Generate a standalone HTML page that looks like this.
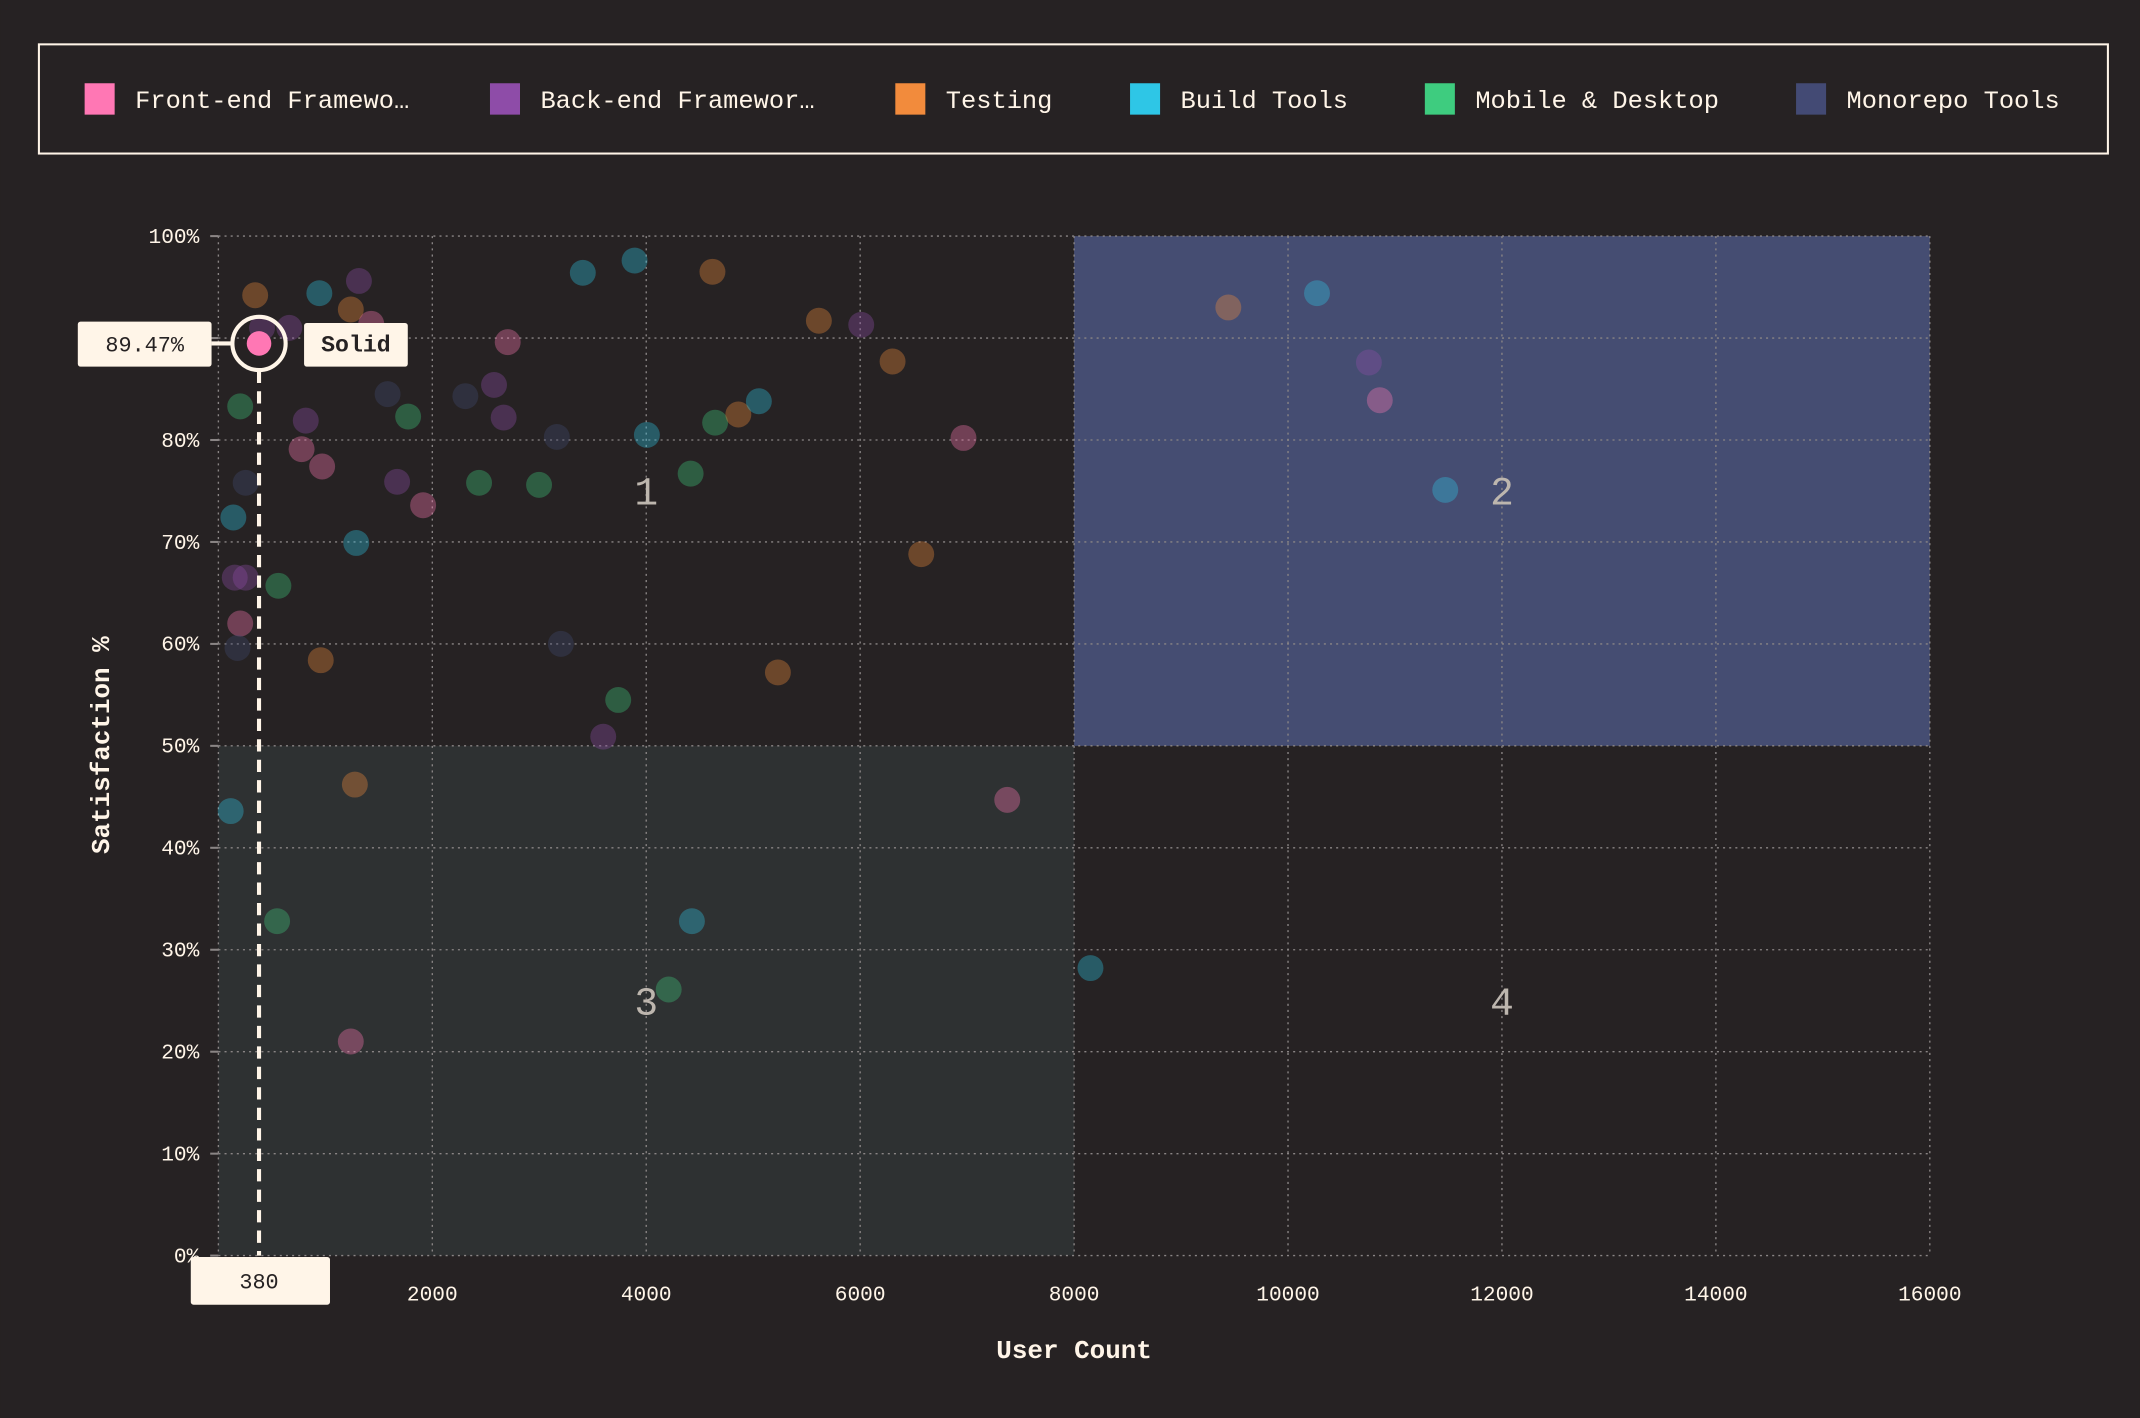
<!DOCTYPE html>
<html><head><meta charset="utf-8"><style>
html,body{margin:0;padding:0;background:#262223;}
svg{display:block;font-family:"Liberation Mono",monospace;}
</style></head><body>
<svg id="chart" width="2140" height="1418" viewBox="0 0 1568 1039" xmlns="http://www.w3.org/2000/svg">
<rect width="1568" height="1039" fill="#262223"/>
<g id="legend">
<rect x="28.5" y="32.5" width="1516" height="80" fill="none" stroke="#fff5e8" stroke-width="1.5"/>
</g>
<g id="plot"></g>
<text x="787" y="995" text-anchor="middle" font-size="19" font-weight="bold" fill="#fff5e8">User Count</text>
<text transform="translate(80,546) rotate(-90)" text-anchor="middle" font-size="19" font-weight="bold" fill="#fff5e8">Satisfaction %</text>
</svg>
<script>
const categories = ["Front-end Framewo…","Back-end Framewor…","Testing","Build Tools","Mobile & Desktop","Monorepo Tools"];
const catColors = ["#ff77b4","#8e4ca8","#f28b3c","#2ec6e6","#3ecc7f","#434a74"];
const xTicks = [2000,4000,6000,8000,10000,12000,14000,16000];
const yTicks = [0,10,20,30,40,50,60,70,80,90,100];
const quadLabels = ["1","2","3","4"];
// series: [userCount, satisfaction, categoryIndex]
const pointX = [344,944,1314,1238,1429,663,408,1569,2705,3407,3891,4619,5614,6010,6303,204,817,1582,1774,2309,2577,2667,3164,4006,4644,4861,5053,6966,778,970,255,1671,2437,2998,1914,4415,140,1289,6571,153,255,561,204,179,957,3202,5231,3738,3598,115,1276,7375,549,4427,4210,1238,8153,9442,10271,10756,10858,11470];
const pointY = [94.2,94.4,95.6,92.8,91.4,91.0,91.0,88.6,89.6,96.4,97.6,96.5,91.7,91.3,87.7,83.3,81.9,84.5,82.3,84.3,85.4,82.2,80.3,80.5,81.7,82.5,83.8,80.2,79.1,77.4,75.8,75.9,75.8,75.6,73.6,76.7,72.4,69.9,68.8,66.5,66.5,65.7,62.0,59.6,58.4,60.0,57.2,54.5,50.9,43.6,46.2,44.7,32.8,32.8,26.1,21.0,28.2,93.0,94.4,87.6,83.9,75.1];
const pointCat = [2,3,1,2,0,1,1,0,0,3,3,2,2,1,2,4,1,5,4,5,1,1,5,3,4,2,3,0,0,0,5,1,4,4,0,4,3,3,2,1,1,4,0,5,2,5,2,4,1,3,2,0,4,3,4,0,3,2,3,1,0,3];
const highlightX = 380;
const highlightY = 89.47;
const highlightLabel = "Solid";

const NS="http://www.w3.org/2000/svg";
const X0=160,X1=1414,Y0=920,Y1=173,XMAX=16000,YMAX=100;
const sx=v=>X0+(v/XMAX)*(X1-X0);
const sy=v=>Y0-(v/YMAX)*(Y0-Y1);
const plot=document.getElementById('plot');
function mk(tag,attrs,parent){const e=document.createElementNS(NS,tag);for(const k in attrs)e.setAttribute(k,attrs[k]);(parent||plot).appendChild(e);return e;}

// legend
const legend=document.getElementById('legend');
const legX=[62,359,656,828,1044,1316];
categories.forEach((c,i)=>{
  const sq=mk('rect',{x:legX[i],y:61,width:22,height:23,fill:catColors[i]},legend);
  
  
  const t=mk('text',{x:legX[i]+37,y:79,'font-size':18.6,fill:'#fff5e8'},legend);
  t.textContent=c;
  
  
});

// quadrants
const q2=mk('rect',{x:sx(8000),y:sy(100),width:sx(16000)-sx(8000),height:sy(50)-sy(100),fill:'#454d72'});


const q3=mk('rect',{x:sx(0),y:sy(50),width:sx(8000)-sx(0),height:sy(0)-sy(50),fill:'#2e3132'});



// grid
yTicks.forEach(v=>{
  const l=mk('line',{x1:X0,x2:X1,y1:sy(v),y2:sy(v),stroke:'#8a8585','stroke-width':1,'stroke-dasharray':'1.5,3'});
  
  
  const tk=mk('line',{x1:X0-6,x2:X0,y1:sy(v),y2:sy(v),stroke:'#8a8585','stroke-width':1.5});
  
  
  const t=mk('text',{x:X0-14,y:sy(v)+5,'text-anchor':'end','font-size':15.5,fill:'#fff5e8'});
  t.textContent=v+'%';
  
  
});
[0].concat(xTicks).forEach(v=>{
  const l=mk('line',{x1:sx(v),x2:sx(v),y1:Y1,y2:Y0,stroke:'#8a8585','stroke-width':1,'stroke-dasharray':'1.5,3'});
  
  
});
xTicks.forEach(v=>{
  const t=mk('text',{x:sx(v),y:953,'text-anchor':'middle','font-size':15.5,fill:'#fff5e8'});
  t.textContent=v;
  
  
});

// quadrant labels
[[4000,75],[12000,75],[4000,25],[12000,25]].forEach((p,i)=>{
  const t=mk('text',{x:sx(p[0]),y:sy(p[1])+10,'text-anchor':'middle','font-size':29,fill:'#bdb6ae'});
  t.textContent=quadLabels[i];
  
  
});

// points
pointX.forEach((v,i)=>{
  const c=mk('circle',{cx:sx(v),cy:sy(pointY[i]),r:9.5,fill:catColors[pointCat[i]],'fill-opacity':0.35});
  
  
});

// highlight
const hx=sx(highlightX),hy=sy(highlightY);
const dl=mk('line',{x1:hx,x2:hx,y1:hy+20,y2:Y0,stroke:'#fff5e8','stroke-width':3,'stroke-dasharray':'9,6'});


const hl=mk('line',{x1:155,x2:hx-20,y1:hy,y2:hy,stroke:'#fff5e8','stroke-width':3});


const hp=mk('circle',{cx:hx,cy:hy,r:9,fill:'#ff77b4'});


const ring=mk('circle',{cx:hx,cy:hy,r:19.5,fill:'none',stroke:'#fff5e8','stroke-width':3});


const yb=mk('rect',{x:57,y:hy-16,width:98,height:33,rx:2,fill:'#fff5e8'});


const yt=mk('text',{x:106,y:hy+6,'text-anchor':'middle','font-size':16,fill:'#262223'});
yt.textContent=highlightY.toFixed(2)+'%';


const xb=mk('rect',{x:hx-50,y:921,width:102,height:35,rx:2,fill:'#fff5e8'});


const xt=mk('text',{x:hx,y:944,'text-anchor':'middle','font-size':16,fill:'#262223'});
xt.textContent=highlightX;


const nb=mk('rect',{x:hx+33,y:hy-15,width:76,height:32,rx:2,fill:'#fff5e8'});


const nt=mk('text',{x:hx+71,y:hy+6,'text-anchor':'middle','font-size':17,'font-weight':'bold',fill:'#262223'});
nt.textContent=highlightLabel;


</script>
</body></html>
